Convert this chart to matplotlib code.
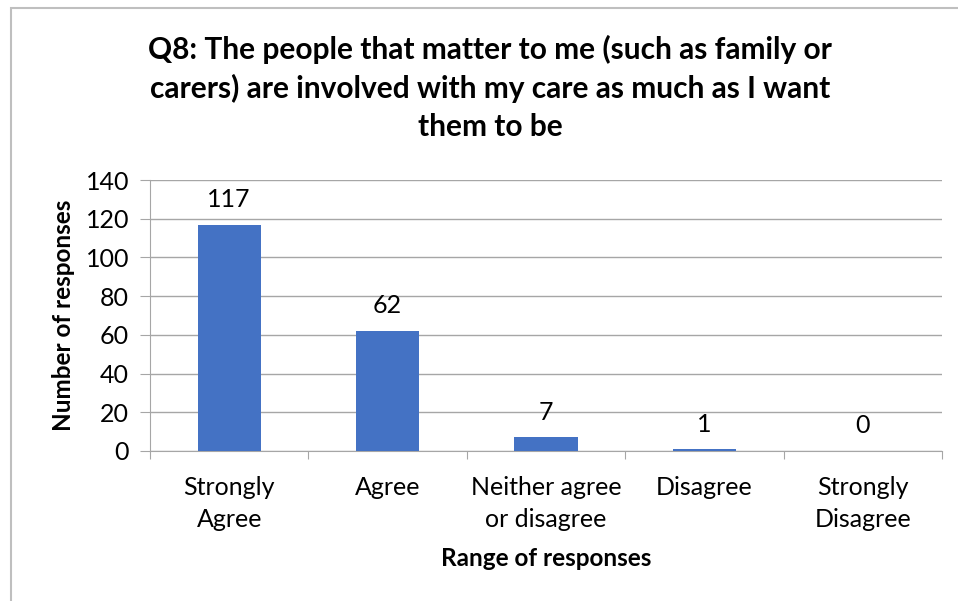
import matplotlib
matplotlib.use("Agg")
import matplotlib.pyplot as plt
from matplotlib.patches import Rectangle

categories = ["Strongly\nAgree", "Agree", "Neither agree\nor disagree", "Disagree", "Strongly\nDisagree"]
values = [117, 62, 7, 1, 0]
yticks = [0, 20, 40, 60, 80, 100, 120, 140]
title = "Q8: The people that matter to me (such as family or\ncarers) are involved with my care as much as I want\nthem to be"

plt.rcParams['font.family'] = ['Lato', 'DejaVu Sans']

W, H = 958, 601
fig = plt.figure(figsize=(W/100, H/100), dpi=100)
fig.patches.append(Rectangle((11/W, -0.1), 1.2, (H-8)/H + 0.1, transform=fig.transFigure,
                             fill=False, edgecolor='#bfbfbf', linewidth=1.5))

FS = 18
L, R, T, B = 150, 942, 180, 451
ax = fig.add_axes([L/W, 1-B/H, (R-L)/W, (B-T)/H])
x = list(range(len(categories)))
ax.bar(x, values, width=0.4, color='#4472c4', zorder=3)
ax.set_xlim(-0.5, len(categories)-0.5)
ax.set_ylim(0, 140)
ax.set_yticks(yticks)
ax.set_yticklabels([str(v) for v in yticks], fontsize=FS)
ax.yaxis.grid(True, color='#a6a6a6', linewidth=1, zorder=0)
for s in ['top', 'right']:
    ax.spines[s].set_visible(False)
ax.spines['left'].set_color('#a6a6a6')
ax.spines['bottom'].set_color('#a6a6a6')
ax.tick_params(axis='y', length=7, color='#a6a6a6', pad=8, direction='out')
ax.set_xticks([i - 0.5 for i in range(len(categories)+1)])
ax.set_xticklabels([])
ax.tick_params(axis='x', length=6, color='#a6a6a6', direction='out')
for i, c in enumerate(categories):
    ax.text(i, -(476-451)/(B-T), c, transform=ax.get_xaxis_transform(), ha='center', va='top',
            fontsize=FS, linespacing=1.45)
for i, v in enumerate(values):
    ax.text(i, v + 7, str(v), ha='center', va='bottom', fontsize=FS)

ax.set_ylabel("Number of responses", fontsize=17.5, fontweight='bold', labelpad=8)
fig.text((L+R)/2/W, 1-558/H, "Range of responses", ha='center', va='center',
         fontsize=17.5, fontweight='bold')
fig.text(490/W, 1-88/H, title, ha='center', va='center', fontsize=21.5,
         fontweight='bold', linespacing=1.42)

fig.savefig("out.png", dpi=100)
